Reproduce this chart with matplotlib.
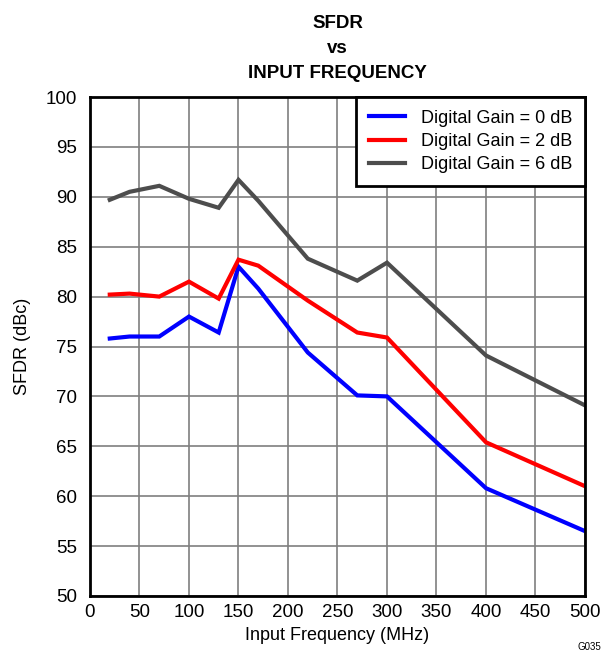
import matplotlib
matplotlib.use('Agg')
import matplotlib.pyplot as plt

plt.rcParams['font.family'] = ['Liberation Sans', 'DejaVu Sans']

freq = [20, 40, 70, 100, 130, 150, 170, 220, 270, 300, 400, 500]
gain0 = [75.8, 76.0, 76.0, 78.0, 76.4, 83.0, 80.8, 74.4, 70.1, 70.0, 60.8, 56.5]
gain2 = [80.2, 80.3, 80.0, 81.5, 79.8, 83.7, 83.1, 79.6, 76.4, 75.9, 65.4, 61.0]
gain6 = [89.7, 90.5, 91.1, 89.8, 88.9, 91.7, 89.6, 83.8, 81.6, 83.4, 74.1, 69.1]

labels = ['Digital Gain = 0 dB', 'Digital Gain = 2 dB', 'Digital Gain = 6 dB']
colors = ['#0000ff', '#ff0000', '#4d4d4d']

fig = plt.figure(figsize=(6.1, 6.6), dpi=100)
ax = fig.add_axes([0.1475, 0.097, 0.8115, 0.756])

for ys, lab, c in zip([gain0, gain2, gain6], labels, colors):
    ax.plot(freq, ys, color=c, lw=3, label=lab, solid_joinstyle='miter')

ax.set_xlim(0, 500)
ax.set_ylim(50, 100)
ax.set_xticks(range(0, 501, 50))
ax.set_yticks(range(50, 101, 5))
ax.grid(True, color='#7f7f7f', lw=1.2)
ax.set_axisbelow(True)
ax.tick_params(direction='in', length=0, labelsize=13.5)
ax.tick_params(axis='y', pad=9)
ax.tick_params(axis='x', pad=6)
for s in ax.spines.values():
    s.set_linewidth(2)

ax.set_xlabel('Input Frequency (MHz)', fontsize=13, labelpad=4)
ax.set_ylabel('SFDR (dBc)', fontsize=13, labelpad=11)
ax.set_title('SFDR\nvs\nINPUT FREQUENCY', fontsize=13.5, fontweight='bold',
             linespacing=1.6, pad=14)

leg = ax.legend(loc='upper right', fontsize=13, frameon=True, fancybox=False,
                borderaxespad=0, handlelength=2.0, borderpad=0.7,
                labelspacing=0.35, handletextpad=0.9)
leg.get_frame().set_edgecolor('black')
leg.get_frame().set_linewidth(2)
leg.get_frame().set_alpha(1)

fig.text(0.985, 0.012, 'G035', fontsize=7, ha='right', va='bottom')

fig.savefig('out.png', dpi=100)
